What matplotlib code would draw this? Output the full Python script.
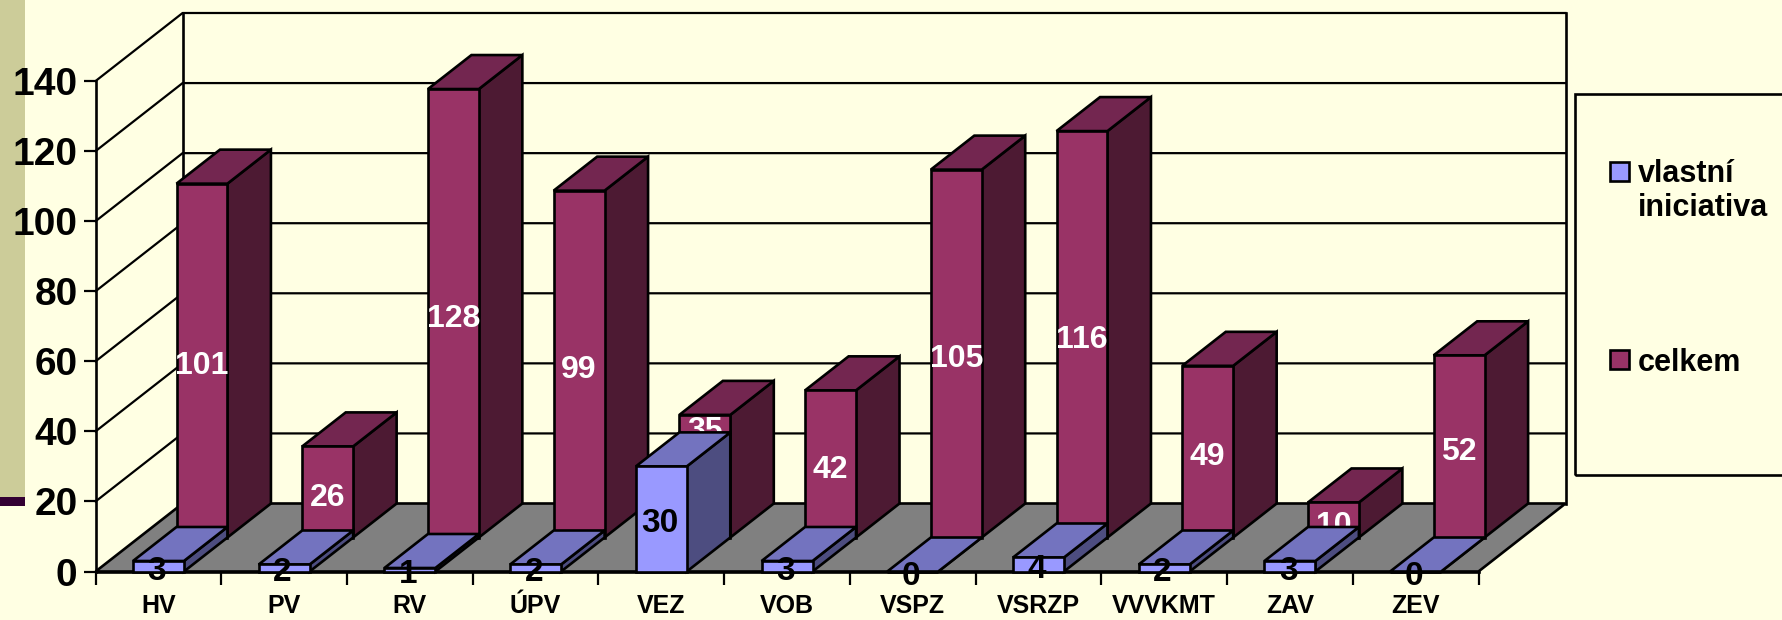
import matplotlib
matplotlib.use('Agg')
import matplotlib.pyplot as plt
from matplotlib.patches import Polygon, Rectangle

plt.rcParams['font.family'] = ['Liberation Sans', 'DejaVu Sans']
plt.rcParams['font.weight'] = 'bold'

# Data
categories = ['HV', 'PV', 'RV', 'ÚPV', 'VEZ', 'VOB', 'VSPZ', 'VSRZP', 'VVVKMT', 'ZAV', 'ZEV']
vlastni = [3, 2, 1, 2, 30, 3, 0, 4, 2, 3, 0]
celkem = [101, 26, 128, 99, 35, 42, 105, 116, 49, 10, 52]
y_ticks = [0, 20, 40, 60, 80, 100, 120, 140]

# Colours
BG = '#FFFFE3'
RED = ('#993366', '#732650', '#4D1A33')
BLUE = ('#9999FF', '#7373BF', '#4D4D80')

W, H = 1782, 620
fig = plt.figure(figsize=(W / 100, H / 100), dpi=100, facecolor=BG)

# front plane of the chart, in pixels
left, right, y0, y140 = 95.6, 1478.5, 571.5, 81
ax = fig.add_axes([left / W, 1 - y0 / H, (right - left) / W, (y0 - y140) / H])
ax.set_xlim(0, len(categories))
ax.set_ylim(0, 140)
ax.patch.set_alpha(0)

# oblique depth: full depth shifts by this much in data units
DX = 87 / ((right - left) / len(categories))
DY = 68 / ((y0 - y140) / 140)


def px(x, y, d=0.0):
    return (x + DX * d, y + DY * d)


def box(x0, x1, d0, d1, val, colors, z):
    front = [px(x0, 0, d0), px(x1, 0, d0), px(x1, val, d0), px(x0, val, d0)]
    top = [px(x0, val, d0), px(x1, val, d0), px(x1, val, d1), px(x0, val, d1)]
    side = [px(x1, 0, d0), px(x1, 0, d1), px(x1, val, d1), px(x1, val, d0)]
    for pts, c in zip((side, top, front), (colors[2], colors[1], colors[0])):
        ax.add_patch(Polygon(pts, closed=True, fc=c, ec='black', lw=1.9,
                             joinstyle='miter', clip_on=False, zorder=z))


# left decoration of the slide
px_fig = fig.transFigure
fig.add_artist(Rectangle((0, 1 - 497 / H), 25 / W, 497 / H, transform=px_fig, fc='#CCCC99', ec='none', zorder=-5))
fig.add_artist(Rectangle((0, 1 - 506 / H), 25 / W, 9 / H, transform=px_fig, fc='#330033', ec='none', zorder=-5))

# walls and floor
n = len(categories)
for v in y_ticks[1:]:
    ax.plot(*zip(px(0, v), px(0, v, 1), px(n, v, 1)), color='black', lw=1.6, clip_on=False, zorder=1)
ax.plot(*zip(px(0, 0, 1), px(0, 140, 1)), color='black', lw=1.9, clip_on=False, zorder=1)
ax.plot(*zip(px(n, 0, 1), px(n, 140, 1)), color='black', lw=1.9, clip_on=False, zorder=1)
ax.add_patch(Polygon([px(0, 0), px(n, 0), px(n, 0, 1), px(0, 0, 1)], closed=True,
                     fc='#808080', ec='black', lw=1.9, clip_on=False, zorder=2))

# bars, back row first
bw = 0.405
z = 3
for i, v in enumerate(celkem):
    x0 = i + 0.5 - bw / 2
    box(x0, x0 + bw, 0.5, 1, v, RED, z)
    # the VEZ label was moved up in the original
    ly = v / 2 - 1.6 if categories[i] != 'VEZ' else 30.5
    cx, cy = px(i + 0.5, ly, 0.5)
    ax.text(cx, cy, str(v), color='white', fontsize=23, ha='center', va='center', zorder=z + 0.5)
z = 5
for i, v in enumerate(vlastni):
    x0 = i + 0.5 - bw / 2
    box(x0, x0 + bw, 0, 0.5, v, BLUE, z)
    ax.text(i + 0.485, v / 2 - 1.4, str(v), color='black', fontsize=24, ha='center', va='center', zorder=z + 0.5)

# axes
for s in ('top', 'right'):
    ax.spines[s].set_visible(False)
for s in ('left', 'bottom'):
    ax.spines[s].set_linewidth(1.9)
ax.set_yticks(y_ticks)
ax.tick_params(axis='y', labelsize=28, length=9, width=1.6, pad=4)
ax.set_xticks(range(n + 1))
ax.set_xticklabels([])
ax.tick_params(axis='x', which='major', length=9, width=1.6)
ax.set_xticks([i + 0.5 for i in range(n)], minor=True)
ax.set_xticklabels(categories, minor=True, fontsize=18)
ax.tick_params(axis='x', which='minor', length=0, pad=16.5)

# legend, the box runs off the right edge
fig.add_artist(Rectangle((1575 / W, 1 - 475 / H), 260 / W, 381 / H, transform=px_fig,
                         fc='none', ec='black', lw=1.9))
for ytop, c, txt, ty in [(162, BLUE[0], 'vlastní\niniciativa', 191), (350, RED[0], 'celkem', 363)]:
    fig.add_artist(Rectangle((1610 / W, 1 - (ytop + 19) / H), 19 / W, 19 / H, transform=px_fig,
                             fc=c, ec='black', lw=1.9))
    fig.text(1638 / W, 1 - ty / H, txt, fontsize=22, ha='left', va='center', linespacing=1.15)

fig.savefig('out.png', dpi=100, facecolor=BG)
